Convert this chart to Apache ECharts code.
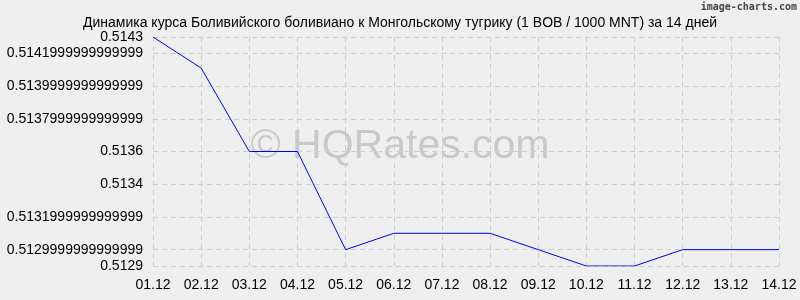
<!DOCTYPE html>
<html>
<head>
<meta charset="utf-8">
<script src="https://cdn.jsdelivr.net/npm/echarts@6/dist/echarts.min.js"></script>
<style>html,body{margin:0;padding:0;background:#efefef;}#c{width:800px;height:300px;}</style>
</head>
<body>
<div id="c"></div>
<script>
const categories = ['01.12','02.12','03.12','04.12','05.12','06.12','07.12','08.12','09.12','10.12','11.12','12.12','13.12','14.12'];
const rates = [0.5143, 0.51411, 0.5136, 0.5136, 0.5130, 0.5131, 0.5131, 0.5131, 0.5130, 0.5129, 0.5129, 0.5130, 0.5130, 0.5130];
const tickValues = [0.5129, 0.5130, 0.5132, 0.5134, 0.5136, 0.5138, 0.5140, 0.5142, 0.5143];
const tickLabels = ['0.5129','0.5129999999999999','0.5131999999999999','0.5134','0.5136','0.5137999999999999','0.5139999999999999','0.5141999999999999','0.5143'];
const titleText = 'Динамика курса Боливийского боливиано к Монгольскому тугрику (1 BOB / 1000 MNT) за 14 дней';

const chart = echarts.init(document.getElementById('c'), null, {renderer:'canvas'});
const font = 'Liberation Sans, Arial, sans-serif';
function labelFor(v){
  let best = 0, d = Infinity;
  tickValues.forEach((t,i)=>{ const dd = Math.abs(t-v); if (dd<d){d=dd;best=i;} });
  return tickLabels[best];
}
chart.setOption({
  backgroundColor:'#efefef',
  animation:false,
  title:{text:titleText, left:'center', top:11, textStyle:{fontFamily:font, fontSize:14, fontWeight:'normal', color:'#000'}},
  graphic:[
    {type:'text', right:3, top:2, z:100, style:{text:'image-charts.com', fontFamily:'DejaVu Sans Mono, monospace', fontSize:10, fontWeight:'bold', fill:'#444'}},
    {type:'text', left:'center', top:126, z:-1, silent:true, style:{text:'© HQRates.com', fontFamily:font, fontSize:41, fill:'#c9c9c9'}}
  ],
  grid:{left:153, right:21, top:37, bottom:34, containLabel:false},
  xAxis:{
    type:'category', data:categories, boundaryGap:false,
    axisLine:{show:false}, axisTick:{show:false},
    axisLabel:{fontFamily:font, fontSize:14, color:'#000', margin:12},
    splitLine:{show:true, lineStyle:{color:'#cfcfcf', type:[5,4], width:1}}
  },
  yAxis:{
    type:'value', min:0.5129, max:0.5143, scale:true,
    axisLine:{show:false},
    axisTick:{show:false, customValues:tickValues},
    axisLabel:{fontFamily:font, fontSize:14, color:'#000', margin:10, customValues:tickValues, formatter:labelFor},
    splitLine:{show:true, lineStyle:{color:'#cfcfcf', type:[5,4], width:1}}
  },
  series:[{type:'line', data:rates, symbol:'none', lineStyle:{color:'#0000ff', width:1}, itemStyle:{color:'#0000ff'}, z:5}]
});
</script>
</body>
</html>
